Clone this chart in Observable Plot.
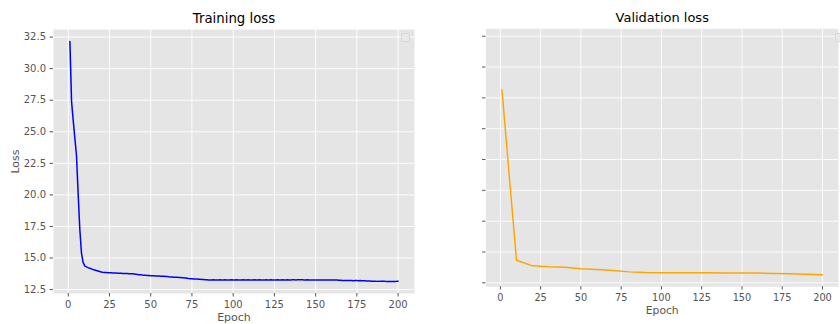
<!DOCTYPE html>
<html><head><meta charset="utf-8">
<script src="https://cdn.jsdelivr.net/npm/d3@7"></script>
<script src="https://cdn.jsdelivr.net/npm/@observablehq/plot@0.6"></script>
<style>
body{margin:0;background:#fff;}
#wrap{position:relative;width:840px;height:324px;overflow:hidden;font-family:"DejaVu Sans",sans-serif;}
#left,#right{position:absolute;top:0;}
#left{left:0;} #right{left:420px;}
.leg{position:absolute;width:7px;height:7px;border:1px solid #d9d9d9;border-radius:2px;background:#e9e9e9;}
</style></head><body>
<div id="wrap"><div id="left"></div><div id="right"></div>
<div class="leg" style="left:401px;top:33px"></div><div class="leg" style="left:835px;top:33px"></div></div>
<script>
const trainLoss = [
32.15,27.40,25.90,24.50,23.10,20.10,17.30,15.40,14.65,14.38,
14.30,14.24,14.19,14.14,14.09,14.05,14.01,13.97,13.93,13.89,
13.87,13.86,13.85,13.84,13.84,13.83,13.82,13.82,13.81,13.80,
13.79,13.79,13.78,13.78,13.77,13.77,13.76,13.76,13.75,13.74,
13.72,13.70,13.68,13.67,13.65,13.64,13.63,13.62,13.61,13.60,
13.59,13.59,13.58,13.57,13.57,13.56,13.55,13.55,13.54,13.53,
13.51,13.50,13.49,13.48,13.47,13.47,13.46,13.45,13.44,13.43,
13.41,13.39,13.37,13.36,13.35,13.34,13.34,13.33,13.32,13.31,
13.30,13.29,13.28,13.27,13.26,13.26,13.26,13.27,13.26,13.26,
13.26,13.27,13.26,13.26,13.27,13.26,13.26,13.26,13.27,13.26,
13.26,13.27,13.26,13.26,13.26,13.27,13.26,13.26,13.27,13.26,
13.26,13.26,13.27,13.26,13.26,13.27,13.26,13.26,13.26,13.27,
13.26,13.26,13.27,13.26,13.26,13.26,13.27,13.26,13.26,13.27,
13.26,13.26,13.27,13.26,13.26,13.27,13.27,13.26,13.27,13.28,
13.28,13.27,13.26,13.26,13.27,13.26,13.26,13.26,13.25,13.25,
13.25,13.26,13.25,13.25,13.25,13.26,13.25,13.25,13.25,13.25,
13.25,13.25,13.25,13.24,13.24,13.22,13.21,13.21,13.21,13.21,
13.21,13.21,13.20,13.21,13.21,13.20,13.21,13.20,13.20,13.19,
13.18,13.17,13.17,13.16,13.16,13.16,13.15,13.16,13.15,13.15,
13.15,13.15,13.14,13.14,13.14,13.14,13.14,13.14,13.15,13.15
];
const trainEpochs = d3.range(1, trainLoss.length + 1);
const valEpochs = [1,10,20,30,40,50,60,70,80,90,100,110,120,130,140,150,160,170,180,190,200];
const valLoss = [28.15,14.33,13.88,13.80,13.76,13.64,13.58,13.50,13.39,13.33,13.31,13.31,13.31,13.31,13.30,13.29,13.29,13.26,13.23,13.20,13.16];
const xTicks = [0,25,50,75,100,125,150,175,200];
const yTicks = [12.5,15,17.5,20,22.5,25,27.5,30,32.5];
const titles = ["Training loss","Validation loss"];
const xLabel = "Epoch", yLabel = "Loss";

function pad(ext){const d=(ext[1]-ext[0])*0.05;return [ext[0]-d, ext[1]+d];}
const xDomain = pad(d3.extent(trainEpochs.concat(valEpochs)));
const yDomain = pad(d3.extent(trainLoss.concat(valLoss)));

const trainData = trainEpochs.map((e,i)=>({epoch:e, loss:trainLoss[i]}));
const valData = valEpochs.map((e,i)=>({epoch:e, loss:valLoss[i]}));

function panel({data, color, title, width, marginLeft, marginRight, showLabels}){
  const marks = [
    Plot.frame({fill:"#E5E5E5", stroke:null}),
    Plot.gridX(xTicks, {stroke:"white", strokeOpacity:1, strokeWidth:0.9}),
    Plot.gridY(yTicks, {stroke:"white", strokeOpacity:1, strokeWidth:0.9}),
    Plot.axisX(xTicks, {tickSize:3.5, tickPadding:4, fontSize:10, color:"#555", label:null}),
    Plot.axisY(yTicks, {tickSize:3.5, tickPadding:4, fontSize:10, color:"#555", label:null,
      tickFormat: showLabels ? d3.format(".1f") : () => ""}),
    Plot.line(data, {x:"epoch", y:"loss", stroke:color, strokeWidth:1.5}),
    Plot.text([title], {frameAnchor:"top", lineAnchor:"middle", dy:-11, fontSize:13.3, fill:"#000"}),
    Plot.text([xLabel], {frameAnchor:"bottom", lineAnchor:"middle", dy:24, fontSize:11, fill:"#555"})
  ];
  if (showLabels) marks.push(Plot.text([yLabel], {frameAnchor:"left", textAnchor:"middle", lineAnchor:"middle", dx:-38, rotate:-90, fontSize:11, fill:"#555"}));
  return Plot.plot({
    width, height:324, marginTop:29, marginBottom:31, marginLeft, marginRight,
    style:{fontFamily:"DejaVu Sans, sans-serif", background:"transparent", overflow:"visible"},
    x:{domain:xDomain}, y:{domain:yDomain},
    marks
  });
}

document.getElementById("left").appendChild(panel({data:trainData, color:"#0000FF", title:titles[0], width:420, marginLeft:53, marginRight:6, showLabels:true}));
document.getElementById("right").appendChild(panel({data:valData, color:"orange", title:titles[1], width:430, marginLeft:67, marginRight:2, showLabels:false}));
</script>
</body></html>
